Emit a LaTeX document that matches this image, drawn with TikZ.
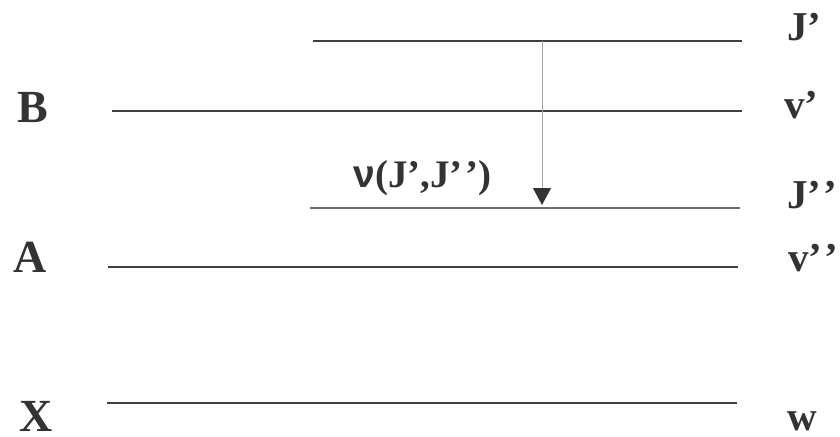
\documentclass[tikz,border=0pt]{standalone}
\usepackage{fontspec}
\setmainfont{Liberation Serif}
\newfontfamily\nusans{Liberation Sans}
\usetikzlibrary{arrows.meta}
\definecolor{lvlgray}{HTML}{404040}
\definecolor{txtgray}{HTML}{333333}
\newcommand{\pp}{’\kern1.2pt’}
\begin{document}
\begin{tikzpicture}[x=0.5pt,y=-0.5pt,
  level/.style={draw=lvlgray,line width=0.65pt},
  statelbl/.style={anchor=base west,inner sep=0pt,text=txtgray,font=\fontsize{23}{26}\selectfont\bfseries},
  qlbl/.style={anchor=base west,inner sep=0pt,text=txtgray,font=\fontsize{20.5}{24}\selectfont\bfseries}]
\useasboundingbox (0,0) rectangle (840,436);
% levels
\draw[level] (313,41)--(742,41);
\draw[level] (112,111)--(742,111);
\draw[level,draw=gray!85!black] (310,208)--(740,208);
\draw[level] (108,267)--(738,267);
\draw[level] (107,403)--(737,403);
% electronic states
\node[statelbl] (B) at (17,122) {B};
\node[statelbl] (A) at (13,272) {A};
\node[statelbl] (X) at (19,431) {X};
% quantum numbers
\node[qlbl] (Jup) at (787,40) {J’};
\node[qlbl] (vup) at (784,118) {v’};
\node[qlbl] (Jlo) at (787,208) {J\pp};
\node[qlbl] (vlo) at (788,271) {v\pp};
\node[qlbl] (w) at (787,430) {w};
% transition
\coordinate (top) at (542,41);
\coordinate (bot) at (542,205);
\draw[draw=gray!70,line width=0.5pt,-{Triangle[width=9pt,length=8.5pt,color=txtgray]}] (top)--(bot);
\node[anchor=base west,inner sep=0pt,text=txtgray,font=\fontsize{19.5}{22}\selectfont\bfseries] (nu) at (353,187) {{\nusans\bfseries ν}{\rmfamily\bfseries(J’,J\pp)}};
\end{tikzpicture}
\end{document}
